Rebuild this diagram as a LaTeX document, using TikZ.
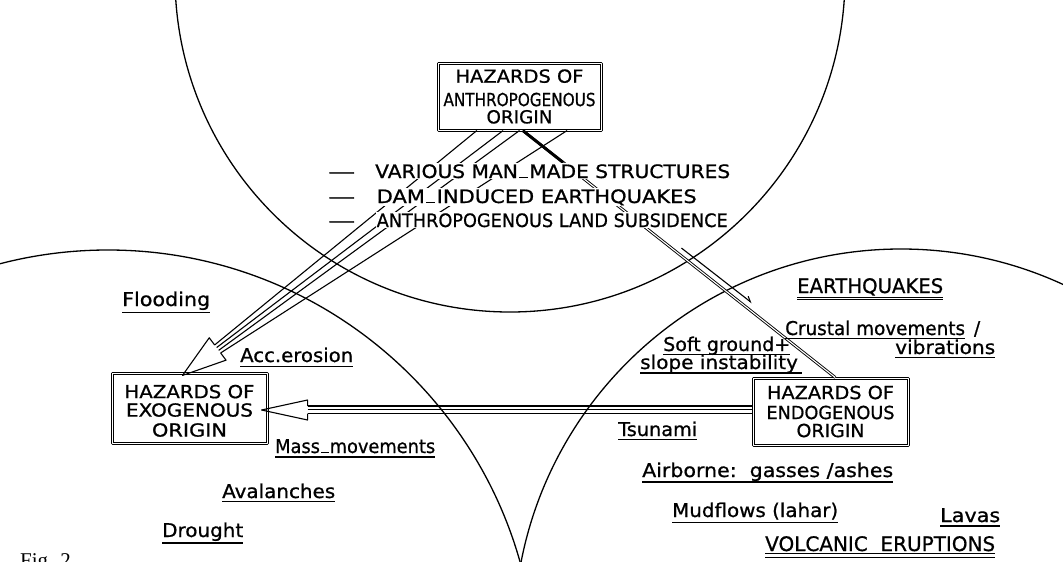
\documentclass[tikz,border=0pt]{standalone}
\usepackage{fontspec}
\usepackage{graphicx}
\setmainfont{DejaVu Sans}
\newfontfamily\isofont[FakeBold=0.8]{DejaVu Sans}
\newfontfamily\figfont{Liberation Serif}
\usetikzlibrary{calc,arrows.meta}
\newcommand\fw[2]{\resizebox{#1}{\height}{#2}}
\newcommand\ul[2][4.5]{\setbox0\hbox{#2}\leavevmode\rlap{\rule[-#1pt]{\wd0}{1.2pt}}\box0}
\newcommand\dul[3]{\setbox0\hbox{#3}\leavevmode\rlap{\rule[-#1pt]{\wd0}{1pt}}\rlap{\rule[-#2pt]{\wd0}{1pt}}\box0}
\newcommand\lowdash{\kern1.2pt\rule{8pt}{1.3pt}\kern1.2pt}
\tikzset{
  circ/.style={line width=1.3pt},
  conn/.style={line width=1.1pt},
  dblconn/.style={double, line width=0.9pt, double distance=1.1pt},
  hbox/.style={draw, fill=white, line width=1.1pt, double, double distance=0.8pt, inner sep=0pt, align=center, font=\isofont\fontsize{18}{20}\selectfont},
  lbl/.style={anchor=base west, inner sep=0pt, font=\isofont\fontsize{19}{22}\selectfont},
  caplbl/.style={anchor=base west, inner sep=0pt, font=\isofont\fontsize{20}{22}\selectfont},
  rowtext/.style={anchor=base west, inner sep=1pt, fill=white, font=\isofont\fontsize{18.5}{20}\selectfont},
}
\begin{document}
\begin{tikzpicture}[x=1pt, y=-1pt, line join=round]
\useasboundingbox (0,0) rectangle (1063,562);
\fill[white] (0,0) rectangle (1063,562);
\clip (0,0) rectangle (1063,562);

% circles
\draw[circ] (510,-23) circle[radius=335pt];
\draw[circ] (108,678) circle[radius=428pt];
\draw[circ] (901,636) circle[radius=387pt];

% boxes
\node[hbox, minimum width=163pt, minimum height=67pt] (anth) at (519.5,96.5)
  {\fw{128pt}{HAZARDS OF}\\[3.4pt]\fw{152pt}{ANTHROPOGENOUS}\\[-2.7pt]\fw{66pt}{ORIGIN}};
\node[hbox, minimum width=155pt, minimum height=70pt] (exo) at (189.5,408)
  {\rule{0pt}{19pt}\fw{130pt}{HAZARDS OF}\\[-1.6pt]\fw{127pt}{EXOGENOUS}\\\fw{75pt}{ORIGIN}};
\node[hbox, minimum width=155pt, minimum height=67pt] (endo) at (830.5,411.5)
  {\fw{127pt}{HAZARDS OF}\\\fw{128pt}{ENDOGENOUS}\\[-2pt]\fw{68pt}{ORIGIN}};

% horizontal arrow endo -> exo
\coordinate (ht) at ($(exo.east)+(-6,2)$);
\draw[conn] ($(ht)+(46,-4)$) -- ($(ht)+(46,-10)$) -- (ht) -- ($(ht)+(46,10)$) -- ($(ht)+(46,3.5)$);
\draw[conn] ($(ht)+(46,-4)$) -- ($(ht -| endo.west)+(0,-4)$);
\draw[conn] ($(ht)+(46,-0.25)$) -- ($(ht -| endo.west)+(0,-0.25)$);
\draw[conn] ($(ht)+(46,3.5)$) -- ($(ht -| endo.west)+(0,3.5)$);

% diagonal arrow anth -> exo
\coordinate (dt) at ($(exo.north west)+(71,3)$);
\draw[conn] ($(dt)+(32.2,-30.5)$) -- ($(dt)+(26.8,-37.7)$) -- (dt) -- ($(dt)+(43.6,-15.3)$) -- ($(dt)+(38.2,-22.5)$);
\draw[conn] ($(dt)+(32.2,-30.5)$) -- ($(anth.south west)!0.24!(anth.south east)$);
\draw[conn] ($(dt)+(34.2,-27.9)$) -- ($(anth.south west)!0.40!(anth.south east)$);
\draw[conn] ($(dt)+(36.2,-25.1)$) -- ($(anth.south west)!0.50!(anth.south east)$);
\draw[conn] ($(dt)+(38.2,-22.5)$) -- ($(anth.south west)!0.79!(anth.south east)$);

% connector anth -> endo
\coordinate (p1) at ($(anth.south west)!0.52!(anth.south east)$);
\coordinate (p2) at ($(endo.north west)!0.53!(endo.north east)$);
\draw[dblconn] (p1) -- (p2);
\draw[line width=2.6pt] (p1) -- ($(p1)!0.13!(p2)$);
\draw[conn, -{Straight Barb[harpoon, length=5pt, width=6pt]}] ($(p1)!0.476!(p2)+(10,0)$) -- ($(p1)!0.698!(p2)+(11,0)$);

% list of anthropogenous hazards
\node[rowtext] (d1) at (327,178) {\fw{27pt}{—}};
\node[rowtext] (d2) at (327,203) {\fw{27pt}{—}};
\node[rowtext] (d3) at (327,227) {\fw{27pt}{—}};
\node[rowtext] (r1) at (374,178) {\fw{355pt}{VARIOUS MAN\lowdash MADE STRUCTURES}};
\node[rowtext] (r2) at (375.5,203) {\fw{320pt}{DAM\lowdash INDUCED EARTHQUAKES}};
\node[rowtext] (r3) at (375.5,227) {\fw{351pt}{ANTHROPOGENOUS LAND SUBSIDENCE}};

% exogenous labels
\node[lbl] (flood) at (122,306) {\fw{88pt}{\ul[7]{Flooding}}};
\node[lbl] (acc) at (240,362) {\fw{113pt}{\ul[5]{Acc.erosion}}};
\node[lbl] (mass) at (275,453) {\fw{160pt}{\ul[4.5]{Mass\lowdash movements}}};
\node[lbl] (aval) at (222,498) {\fw{113pt}{\ul[4]{Avalanches}}};
\node[lbl] (drou) at (162,537) {\fw{81pt}{\ul[6.5]{Drought}}};

% endogenous labels
\node[caplbl] (eq) at (797,293) {\fw{146pt}{\dul{4.8}{7.3}{EARTHQUAKES}}};
\node[lbl] (crust) at (785,335) {\fw{195pt}{\ul[4]{Crustal movements}\ \,/}};
\node[lbl] (vib) at (895,354) {\fw{100pt}{\ul[3.8]{vibrations}}};
\node[lbl] (soft) at (663,351) {\fw{127pt}{\ul[3.8]{Soft ground+}}};
\node[lbl] (slope) at (640,369) {\fw{162pt}{\ul[4.5]{slope instability\kern4pt}}};
\node[lbl] (tsu) at (618,436) {\fw{79pt}{\ul[4]{Tsunami}}};
\node[lbl] (air) at (642,477) {\fw{251pt}{\ul[5.5]{Airborne:\ \ gasses /ashes}}};
\node[lbl] (mud) at (672,517) {\fw{166pt}{\ul[6]{Mudflows (lahar)}}};
\node[lbl] (lava) at (940,522) {\fw{60pt}{\ul[4.5]{Lavas}}};
\node[caplbl] (volc) at (765,551) {\fw{230pt}{\dul{3}{6.5}{VOLCANIC\ \ ERUPTIONS}}};

% caption (cut off at the bottom edge, as in the scan)
\node[anchor=base west, inner sep=0pt, font=\figfont\fontsize{21}{24}\selectfont] (fig) at (20,567) {Fig. 2};
\end{tikzpicture}
\end{document}
